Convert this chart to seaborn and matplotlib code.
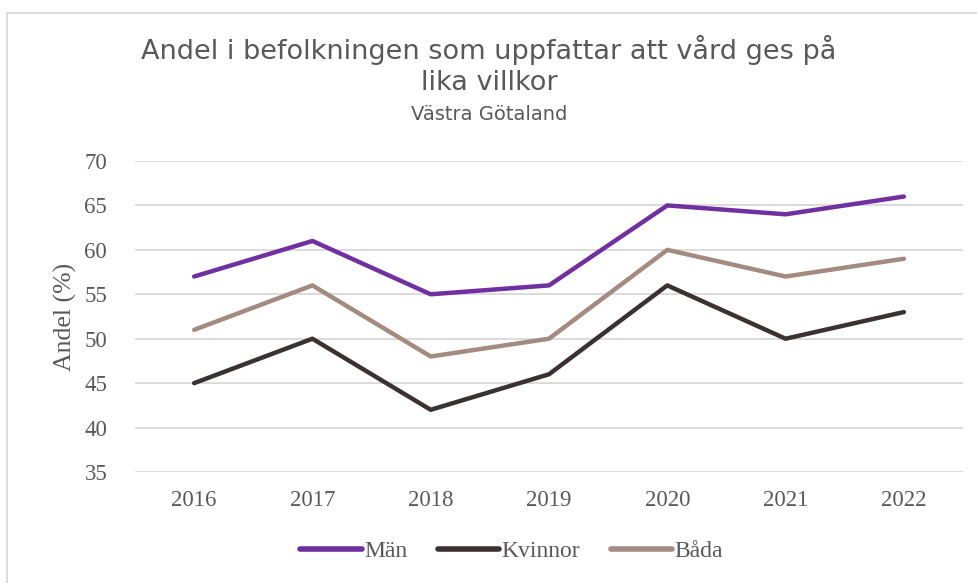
import pandas as pd
import matplotlib.pyplot as plt
import seaborn as sns
from matplotlib.patches import Rectangle

# DATA
years = ["2016", "2017", "2018", "2019", "2020", "2021", "2022"]
man = [57, 61, 55, 56, 65, 64, 66]
kvinnor = [45, 50, 42, 46, 56, 50, 53]
bada = [51, 56, 48, 50, 60, 57, 59]

df = pd.DataFrame({"År": years * 3,
                   "Andel": man + kvinnor + bada,
                   "Grupp": ["Män"] * 7 + ["Kvinnor"] * 7 + ["Båda"] * 7})
palette = {"Män": "#7030A0", "Kvinnor": "#3B3130", "Båda": "#A38B81"}

sns.set_style("white")
serif = ["Liberation Serif", "DejaVu Serif"]
plt.rcParams["font.family"] = ["DejaVu Sans"]

fig = plt.figure(figsize=(9.78, 5.83), dpi=100)
ax = fig.add_axes([135 / 978, 1 - 472 / 583, (963 - 135) / 978, (472 - 161) / 583])

sns.lineplot(data=df, x="År", y="Andel", hue="Grupp", palette=palette,
             linewidth=3.2, ax=ax, sort=False, solid_capstyle="round")

ax.set_ylim(35, 70)
ax.set_yticks(range(35, 71, 5))
ax.set_xlim(-0.5, 6.5)
ax.grid(axis="y", color="#D9D9D9", linewidth=1.3)
ax.set_axisbelow(True)
for s in ax.spines.values():
    s.set_visible(False)
ax.tick_params(length=0, labelsize=16.5, labelcolor="#595959")
for lab in ax.get_xticklabels() + ax.get_yticklabels():
    lab.set_family(serif)
ax.tick_params(axis="x", pad=13)
ax.tick_params(axis="y", pad=20)
ax.set_xlabel("")
ax.set_ylabel("Andel (%)", fontsize=18.5, color="#595959", family=serif, labelpad=5)

leg = ax.legend(loc="center", bbox_to_anchor=(0.455, -0.255), ncol=3, frameon=False,
                prop={"family": serif, "size": 17}, handlelength=2.6, handletextpad=0.1,
                columnspacing=1.3)
for t in leg.get_texts():
    t.set_color("#595959")
for h in leg.get_lines():
    h.set_linewidth(4)

fig.text(0.5, 1 - 50 / 583, "Andel i befolkningen som uppfattar att vård ges på",
         ha="center", va="center", fontsize=19.5, color="#595959")
fig.text(0.5, 1 - 83 / 583, "lika villkor",
         ha="center", va="center", fontsize=19.5, color="#595959")
fig.text(0.5, 1 - 114 / 583, "Västra Götaland",
         ha="center", va="center", fontsize=14, color="#595959")

fig.patches.append(Rectangle((7 / 978, -0.1), 1.2, 1 - 13 / 583 + 0.1,
                             transform=fig.transFigure, fill=False,
                             edgecolor="#D9D9D9", linewidth=1.3))

fig.savefig("out.png", dpi=100)
